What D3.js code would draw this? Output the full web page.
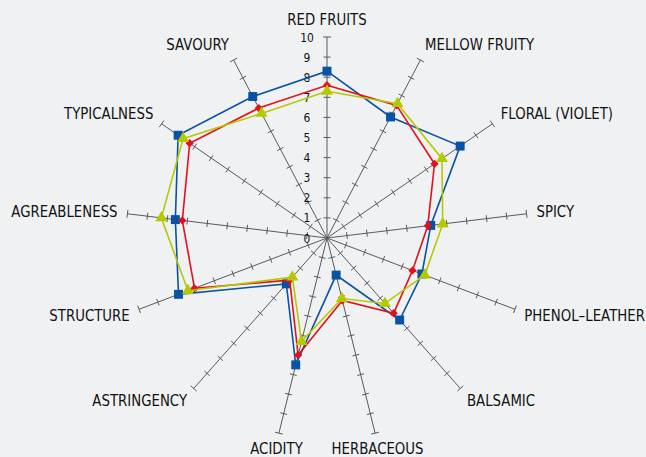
<!DOCTYPE html>
<html>
  <head>
    <meta charset="utf-8">
    <title>Wine profile radar</title>
    <style media="screen">
      body {margin:0; background:#f0f1f3}
      text {font-family:"DejaVu Sans", sans-serif; fill:#111}
    </style>
  </head>
  <body>
    <script src="https://cdn.jsdelivr.net/npm/d3@7"></script>
    <script type="text/javascript">

    // axes, clockwise from the top
    const categories = ['RED FRUITS', 'MELLOW FRUITY', 'FLORAL (VIOLET)', 'SPICY', 'PHENOL\u2013LEATHER',
      'BALSAMIC', 'HERBACEOUS', 'ACIDITY', 'ASTRINGENCY', 'STRUCTURE', 'AGREABLENESS', 'TYPICALNESS', 'SAVOURY']

    const blueValues  = [8.3, 6.8, 8.05, 5.2, 5.05, 5.45, 1.9, 6.5, 3.05, 7.9, 7.6, 9.0, 7.95]
    const redValues   = [7.6, 7.45, 6.5, 5.05, 4.55, 5.0, 3.2, 6.0, 2.8, 7.05, 7.25, 8.3, 7.3]
    const greenValues = [7.3, 7.55, 6.95, 5.8, 5.2, 4.35, 3.1, 5.3, 2.6, 7.4, 8.3, 8.7, 7.0]

    const tickValues = [0, 1, 2, 3, 4, 5, 6, 7, 8, 9, 10]

    const w = 646, h = 457
    const cx = 327, cy = 238
    const squeeze = 0.86   // fake a condensed face

    const svg = d3.select('body').append('svg')
      .attr('width', w)
      .attr('height', h)

    svg.append('rect').attr('width', w).attr('height', h).attr('fill', '#f0f1f3')

    const g = svg.append('g').attr('transform', `translate(${cx}, ${cy})`)

    const r = d3.scaleLinear().domain([0, 10]).range([0, 201])
    const angle = d3.scalePoint().domain(d3.range(categories.length + 1)).range([0, Math.PI * 2])
    const a = i => angle(i)

    // axes with cross ticks
    const axes = g.append('g')
    categories.forEach((c, i) => {
      const s = Math.sin(a(i)), k = -Math.cos(a(i))
      axes.append('line')
        .attr('x1', 0).attr('y1', 0)
        .attr('x2', r(10) * s).attr('y2', r(10) * k)
        .attr('stroke', '#5a5a5a').attr('stroke-width', 1)
      tickValues.slice(1).forEach(t => {
        const px = r(t) * s, py = r(t) * k
        const tl = t === 10 ? 4 : 3.5
        axes.append('line')
          .attr('x1', px - tl * k).attr('y1', py + tl * s)
          .attr('x2', px + tl * k).attr('y2', py - tl * s)
          .attr('stroke', '#5a5a5a').attr('stroke-width', 1)
      })
    })

    // tick labels on the first axis
    g.append('g').selectAll('text')
      .data(tickValues)
      .join('text')
      .attr('transform', d => `translate(-20, ${-r(d)}) scale(${squeeze}, 1)`)
      .attr('dy', '0.36em')
      .attr('text-anchor', 'middle')
      .attr('font-size', 12.5)
      .text(d => d)

    // category labels
    g.append('g').selectAll('text')
      .data(categories)
      .join('text')
      .attr('transform', (d, i) => {
        const s = Math.sin(a(i)), c = Math.cos(a(i))
        const x = (r(10) + 10) * s
        const y = -(r(10) + 10) * c - c * (c < 0 ? 6 : 8)
        return `translate(${x}, ${y}) scale(${squeeze}, 1)`
      })
      .attr('dy', '0.36em')
      .attr('text-anchor', (d, i) => {
        const s = Math.sin(a(i))
        return s > 0.3 ? 'start' : s < -0.3 ? 'end' : 'middle'
      })
      .attr('font-size', 15.5)
      .text(d => d)

    const line = d3.lineRadial()
      .angle((d, i) => a(i))
      .radius(d => r(d))
      .curve(d3.curveLinearClosed)

    const series = [
      {values: blueValues, color: '#0a52a3', symbol: d3.symbolSquare, size: 80, rot: 0},
      {values: redValues, color: '#e3101c', symbol: d3.symbolSquare, size: 34, rot: 45},
      {values: greenValues, color: '#b5c900', symbol: d3.symbolTriangle, size: 62, rot: 0}
    ]

    series.forEach(sr => {
      const sg = g.append('g')
      sg.append('path')
        .attr('d', line(sr.values))
        .attr('fill', 'none')
        .attr('stroke', sr.color)
        .attr('stroke-width', 1.6)
      sg.selectAll('path.m')
        .data(sr.values)
        .join('path')
        .attr('class', 'm')
        .attr('d', d3.symbol().type(sr.symbol).size(sr.size))
        .attr('fill', sr.color)
        .attr('transform', (d, i) => `translate(${r(d) * Math.sin(a(i))}, ${-r(d) * Math.cos(a(i))}) rotate(${sr.rot})`)
    })

    </script>
  </body>
</html>
